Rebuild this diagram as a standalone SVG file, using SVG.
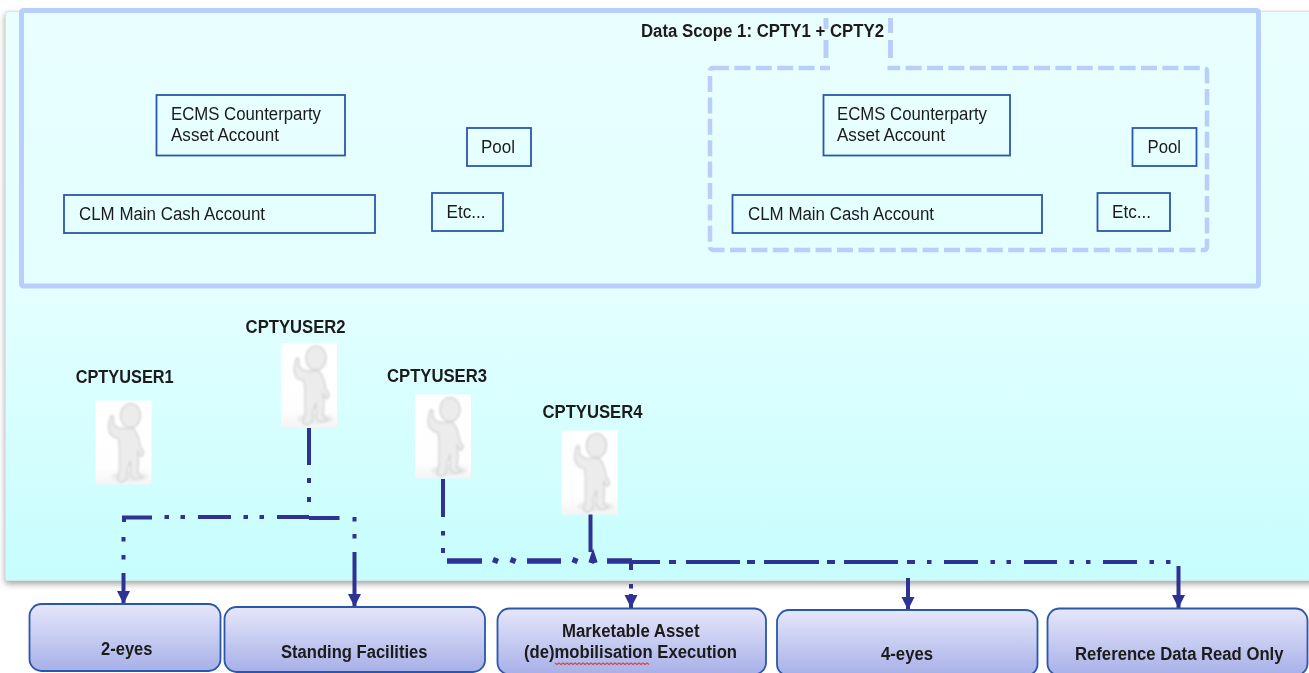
<svg xmlns="http://www.w3.org/2000/svg" xmlns:xlink="http://www.w3.org/1999/xlink" width="1309" height="673" viewBox="0 0 1309 673">
<style>
text{font-family:"Liberation Sans",Arial,sans-serif;fill:#1a1a1a;font-size:18px}
.b{font-weight:bold}
.acct{fill:none;stroke:#2a56ab;stroke-width:1.8}
.scope{fill:none;stroke:#b8cffb;stroke-width:5}
.dashd{fill:none;stroke:#b8cffb;stroke-width:4.5;stroke-dasharray:16 5.4}
.role{fill:url(#roleG);stroke:#2a56ab;stroke-width:1.8}
.c{fill:none;stroke:#2e3192;stroke-width:4}
.t{fill:none;stroke:#2e3192;stroke-width:5.5}
.a{fill:none;stroke:#2e3192;stroke-width:4;marker-end:url(#arr)}
.fig{fill:#ececec;stroke:#d6d6d6;stroke-width:1.5}
</style>
<defs>
<linearGradient id="bg" x1="0" y1="0" x2="0" y2="1"><stop offset="0" stop-color="#e9fffe"/><stop offset=".5" stop-color="#e3ffff"/><stop offset="1" stop-color="#c7fdfd"/></linearGradient>
<linearGradient id="roleG" x1="0" y1="0" x2="0" y2="1"><stop offset="0" stop-color="#e6e7fa"/><stop offset="1" stop-color="#a7b0e8"/></linearGradient>
<linearGradient id="pic" x1="0" y1="0" x2="0" y2="1"><stop offset="0" stop-color="#ffffff"/><stop offset=".8" stop-color="#fefefe"/><stop offset="1" stop-color="#f4f4f4"/></linearGradient>
<filter id="sh" x="-2%" y="-2%" width="104%" height="105%"><feDropShadow dx="0" dy="3" stdDeviation="3" flood-color="#666" flood-opacity=".6"/></filter>
<filter id="soft" x="-5%" y="-5%" width="110%" height="110%"><feGaussianBlur stdDeviation=".4"/></filter>
<filter id="fig" x="-20%" y="-20%" width="140%" height="140%"><feGaussianBlur stdDeviation=".9"/></filter>
<marker id="arr" markerUnits="userSpaceOnUse" markerWidth="14" markerHeight="14" refX="13" refY="6.500" orient="auto"><path d="M0 0L13 6.500L0 13Z" fill="#2e3192"/></marker>
<g id="person">
<rect width="56" height="84" fill="url(#pic)"/>
<g filter="url(#fig)">
<ellipse cx="34" cy="76" rx="18" ry="5" fill="#ececec"/>
<ellipse class="fig" cx="35" cy="15" rx="10" ry="12"/>
<path class="fig" d="M15 16C17 14 18 15 18 18L18 23C20 26 22 28 26 28L38 28C43 34 44 40 45 47C49 50 49 55 45 56L42 50L43 62L42 73L47 77L39 79L35 75L35 60L32 68L31 79L26 82L22 80L24 70L24 46L23 38C16 37 13 32 13 26C13 23 14 20 15 16Z"/>
</g>
</g>
</defs>
<g filter="url(#soft)">
<g id="panel"><rect x="5.500" y="11.500" width="1310" height="569" rx="2" fill="url(#bg)" stroke="#cfe8e6" filter="url(#sh)"/></g>
<g id="scope-outer"><rect class="scope" x="21.500" y="10.500" width="1237" height="275.500" rx="2"/></g>
<g id="scope-inner">
<rect class="dashd" x="710" y="68" width="497" height="182" rx="3"/>
<path d="M826 18V29M826 40V58M890.500 18V33M890.500 40V58" fill="none" stroke="#b8cffb" stroke-width="5"/>
<rect x="830" y="62" width="57.500" height="14" fill="#e8fffe"/>
</g>
<g id="scope-label"><text class="b" x="641" y="36.500" textLength="243" lengthAdjust="spacingAndGlyphs">Data Scope 1: CPTY1 + CPTY2</text></g>

<g id="left-ecms"><rect class="acct" x="156.500" y="95" width="188.500" height="60.500"/><text x="171" y="119.500" textLength="150" lengthAdjust="spacingAndGlyphs">ECMS Counterparty</text><text x="171" y="140.500" textLength="108" lengthAdjust="spacingAndGlyphs">Asset Account</text></g>
<g id="left-pool"><rect class="acct" x="467" y="128" width="64" height="38"/><text x="481" y="152.500" textLength="34" lengthAdjust="spacingAndGlyphs">Pool</text></g>
<g id="left-clm"><rect class="acct" x="64" y="195" width="311" height="38"/><text x="79" y="219.500" textLength="186" lengthAdjust="spacingAndGlyphs">CLM Main Cash Account</text></g>
<g id="left-etc"><rect class="acct" x="432" y="193" width="71" height="38"/><text x="446.500" y="217.500" textLength="39" lengthAdjust="spacingAndGlyphs">Etc...</text></g>

<g id="right-ecms"><rect class="acct" x="823.500" y="95" width="186.500" height="60.500"/><text x="837" y="119.500" textLength="150" lengthAdjust="spacingAndGlyphs">ECMS Counterparty</text><text x="837" y="140.500" textLength="108" lengthAdjust="spacingAndGlyphs">Asset Account</text></g>
<g id="right-pool"><rect class="acct" x="1132.500" y="128" width="64" height="38"/><text x="1147.500" y="152.500" textLength="33.500" lengthAdjust="spacingAndGlyphs">Pool</text></g>
<g id="right-clm"><rect class="acct" x="732.500" y="195" width="309.500" height="38"/><text x="748" y="219.500" textLength="186" lengthAdjust="spacingAndGlyphs">CLM Main Cash Account</text></g>
<g id="right-etc"><rect class="acct" x="1097.500" y="193" width="72.500" height="38"/><text x="1112" y="217.500" textLength="39" lengthAdjust="spacingAndGlyphs">Etc...</text></g>

<g id="connectors">
<path class="c" d="M309 428V465M309 478V483M309 497V502M309 517H277M264 517H259.500M248 517H243.500M231 517H198M185 517H180.500M169 517H164.500M152 517.500H124V522M123.500 537V541.500M123.500 555V559.500"/>
<path class="a" d="M123.500 573V604"/>
<path class="c" d="M309 518H339.500M354.500 517V521.500M354.500 534V538.500"/>
<path class="a" d="M354.500 552V607"/>
<path class="c" d="M443 479V517M443 531V535.500M443 548V553"/>
<path class="t" d="M447 561H482M494.500 563L496.500 558M512 563L514 558M527 561H561M574 563L576 558M591 563L593 557L595 563M607 561H632"/>
<path class="c" d="M632 562H660M669 562H676M686 562H740M747 562H755M764 562H819M827 562H835M844 562H898M907 562H915M927 562H931.500M944 562H978M990.500 562H995M1006.500 562H1011M1024 562H1057M1069.500 562H1074M1086 562H1090.500M1103 562H1137M1149.500 562H1154M1166 562H1170.500"/>
<path class="c" d="M590.500 514V552"/>
<path class="c" d="M631 562V570M631 584V588.500"/>
<path class="a" d="M631 594V608"/>
<path class="a" d="M908 578V610"/>
<path class="a" d="M1178.500 566V608"/>
</g>

<g id="user1"><use xlink:href="#person" href="#person" x="95.500" y="400.500"/><text class="b" x="75.700" y="382.500" textLength="98" lengthAdjust="spacingAndGlyphs">CPTYUSER1</text></g>
<g id="user2"><use xlink:href="#person" href="#person" x="281" y="343"/><text class="b" x="245.600" y="332.500" textLength="100" lengthAdjust="spacingAndGlyphs">CPTYUSER2</text></g>
<g id="user3"><use xlink:href="#person" href="#person" x="415" y="394.500"/><text class="b" x="387" y="381.500" textLength="100" lengthAdjust="spacingAndGlyphs">CPTYUSER3</text></g>
<g id="user4"><use xlink:href="#person" href="#person" x="561.500" y="430.500"/><text class="b" x="542.500" y="417.500" textLength="100" lengthAdjust="spacingAndGlyphs">CPTYUSER4</text></g>

<g id="role-2eyes"><rect class="role" x="29.500" y="604" width="191" height="67" rx="12"/><text class="b" x="101" y="654.500" textLength="51.500" lengthAdjust="spacingAndGlyphs">2-eyes</text></g>
<g id="role-standing"><rect class="role" x="224.500" y="607" width="260.500" height="65" rx="12"/><text class="b" x="281" y="657.500" textLength="146.500" lengthAdjust="spacingAndGlyphs">Standing Facilities</text></g>
<g id="role-marketable"><rect class="role" x="497.500" y="608.500" width="268.500" height="66" rx="12"/><text class="b" x="562" y="636.500" textLength="137.500" lengthAdjust="spacingAndGlyphs">Marketable Asset</text><text class="b" x="524" y="657.500" textLength="213" lengthAdjust="spacingAndGlyphs">(de)mobilisation Execution</text><path d="M555 663l2 1.500l2-1.500l2 1.500l2-1.500l2 1.500l2-1.500l2 1.500l2-1.500l2 1.500l2-1.500l2 1.500l2-1.500l2 1.500l2-1.500l2 1.500l2-1.500l2 1.500l2-1.500l2 1.500l2-1.500l2 1.500l2-1.500l2 1.500l2-1.500l2 1.500l2-1.500l2 1.500l2-1.500l2 1.500l2-1.500l2 1.500l2-1.500l2 1.500l2-1.500l2 1.500l2-1.500l2 1.500l2-1.500l2 1.500l2-1.500l2 1.500l2-1.500l2 1.500l2-1.500l2 1.500l2-1.500l2 1.500" fill="none" stroke="#e0443e" stroke-width="1.200"/></g>
<g id="role-4eyes"><rect class="role" x="777" y="610" width="260.500" height="66" rx="12"/><text class="b" x="881" y="659.500" textLength="52" lengthAdjust="spacingAndGlyphs">4-eyes</text></g>
<g id="role-refdata"><rect class="role" x="1047.500" y="608.500" width="260" height="67" rx="12"/><text class="b" x="1075" y="659.500" textLength="208.500" lengthAdjust="spacingAndGlyphs">Reference Data Read Only</text></g>
</g>
</svg>
